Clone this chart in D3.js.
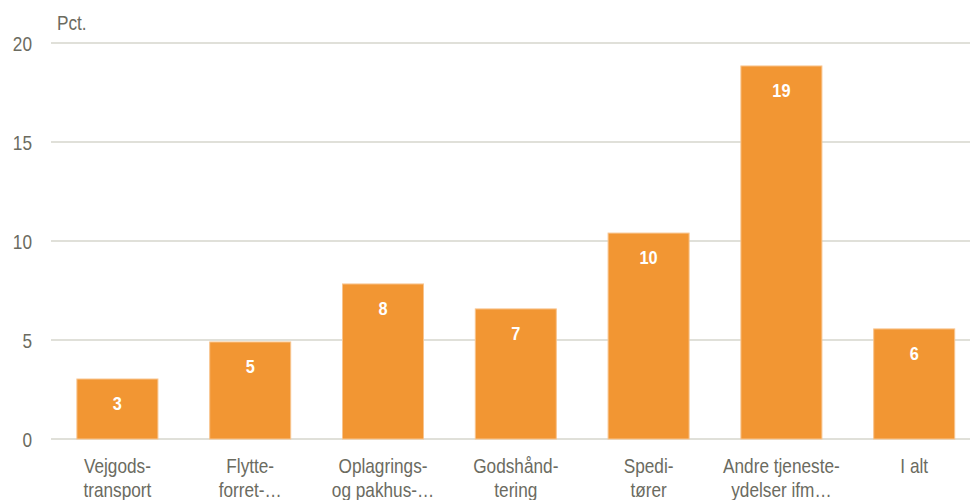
<!DOCTYPE html>
<html>
<head>
<meta charset="utf-8">
<script src="https://cdn.jsdelivr.net/npm/d3@7/dist/d3.min.js"></script>
<style>
  html, body { margin: 0; padding: 0; background: #fff; }
  svg { display: block; }
  text { font-family: "Liberation Sans Narrow", "Arial Narrow", "Liberation Sans", Arial, sans-serif; }
</style>
</head>
<body>
<svg id="chart" width="971" height="500"></svg>
<script>
// Andel (pct.) per branche
const categories = [
  ["Vejgods-", "transport"],
  ["Flytte-", "forret-…"],
  ["Oplagrings-", "og pakhus-…"],
  ["Godshånd-", "tering"],
  ["Spedi-", "tører"],
  ["Andre tjeneste-", "ydelser ifm…"],
  ["I alt"]
];
const values = [3.03, 4.9, 7.83, 6.57, 10.4, 18.84, 5.56];
const yTicks = [0, 5, 10, 15, 20];
const yUnit = "Pct.";

(function () {
  const svg = d3.select("#chart");
  const mLeft = 51, mRight = 980.6, mTop = 43, mBottom = 439;
  const narrow = 0.82;          // horisontal sammentrykning af teksten
  const textColor = "#6b6b5f";

  const x = d3.scaleBand()
    .domain(d3.range(categories.length))
    .range([mLeft, mRight])
    .paddingInner(0.39)
    .paddingOuter(0.195);

  const y = d3.scaleLinear().domain([0, 20]).range([mBottom, mTop]);

  // Gitterlinjer
  svg.append("g")
    .selectAll("line")
    .data(yTicks)
    .join("line")
    .attr("x1", mLeft).attr("x2", 970)
    .attr("y1", d => y(d)).attr("y2", d => y(d))
    .attr("stroke", "#d6d6cc").attr("stroke-width", 1.3);

  // Y-akse etiketter
  const yAxis = d3.axisLeft(y).tickValues(yTicks).tickSize(0).tickPadding(0);
  const gy = svg.append("g").attr("transform", "translate(32,0)").call(yAxis);
  gy.select(".domain").remove();
  gy.attr("font-family", null).attr("font-size", null);
  gy.selectAll(".tick text")
    .attr("fill", textColor)
    .style("font-size", "21px")
    .attr("x", 0)
    .attr("dy", "0.36em")
    .attr("transform", `scale(${narrow},1)`);

  svg.append("text")
    .attr("transform", `translate(57,30) scale(${narrow},1)`)
    .attr("fill", textColor)
    .style("font-size", "21px")
    .text(yUnit);

  // Søjler
  svg.append("g")
    .selectAll("rect")
    .data(values)
    .join("rect")
    .attr("x", (d, i) => x(i))
    .attr("y", d => y(d))
    .attr("width", x.bandwidth())
    .attr("height", d => y(0) - y(d))
    .attr("fill", "#f29633")
    .attr("stroke", "#f8c48e")
    .attr("stroke-width", 1);

  // Værdietiketter
  svg.append("g")
    .selectAll("text")
    .data(values)
    .join("text")
    .attr("transform", (d, i) =>
      `translate(${x(i) + x.bandwidth() / 2},${y(d) + 24}) scale(0.86,1)`)
    .attr("dy", "0.36em")
    .attr("text-anchor", "middle")
    .attr("fill", "#ffffff")
    .style("font-size", "19px")
    .style("font-weight", "bold")
    .text(d => d3.format(".0f")(d));

  // Kategorietiketter
  const cat = svg.append("g")
    .selectAll("text")
    .data(categories)
    .join("text")
    .attr("transform", (d, i) =>
      `translate(${x(i) + x.bandwidth() / 2},473) scale(${narrow},1)`)
    .attr("text-anchor", "middle")
    .attr("fill", textColor)
    .style("font-size", "21px");
  cat.selectAll("tspan")
    .data(d => d)
    .join("tspan")
    .attr("x", 0)
    .attr("dy", (d, i) => i === 0 ? 0 : 24)
    .text(d => d);
})();
</script>
</body>
</html>
